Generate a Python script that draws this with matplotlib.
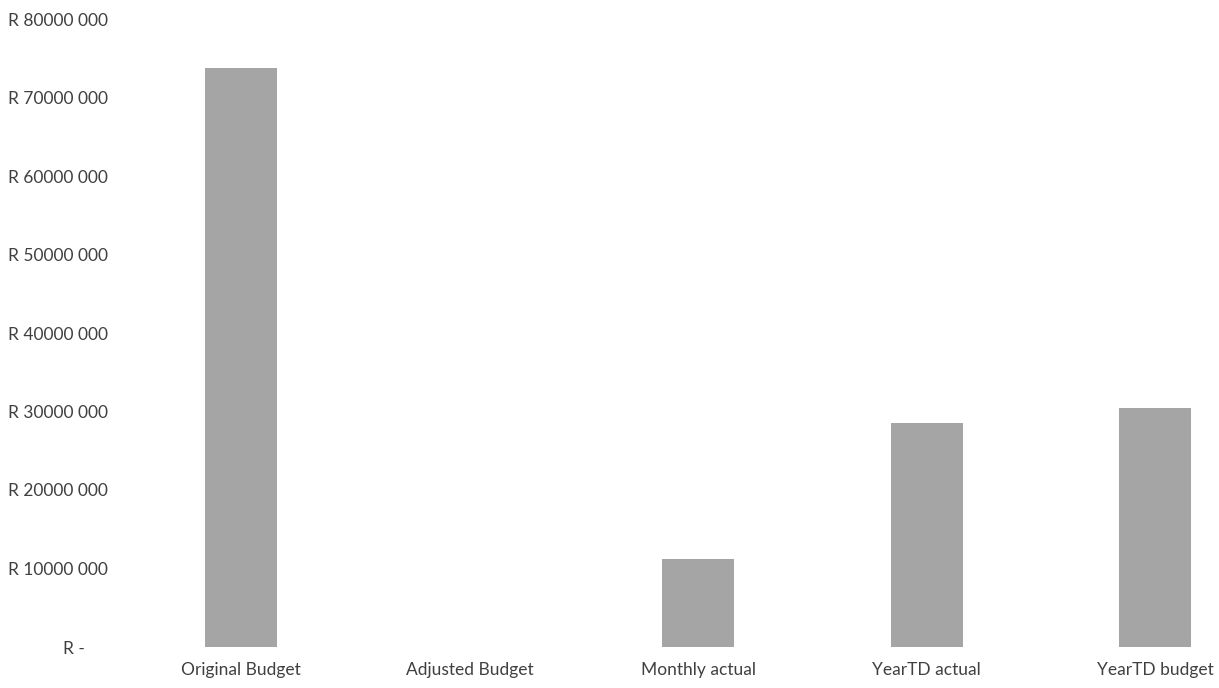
import matplotlib
matplotlib.use("Agg")
import matplotlib.pyplot as plt
from matplotlib.ticker import FuncFormatter

categories = ["Original Budget", "Adjusted Budget", "Monthly actual", "YearTD actual", "YearTD budget"]
values = [73800000, 0, 11200000, 28500000, 30400000]
yticks = [0, 10000000, 20000000, 30000000, 40000000, 50000000, 60000000, 70000000, 80000000]

plt.rcParams['font.family'] = ['Lato', 'DejaVu Sans']

fig = plt.figure(figsize=(12.19, 6.88), dpi=100)
ax = fig.add_axes([127/1219, (688-647)/688, 1 - 127/1219, (647-19)/688])

x = list(range(len(categories)))
ax.bar(x, values, width=0.315, color="#a5a5a5")

ax.set_xlim(-0.5, 4.28)
ax.set_ylim(0, 80000000)
ax.set_xticks(x)
ax.set_xticklabels(categories)
ax.set_yticks(yticks)

def fmt(v, pos):
    if v == 0:
        return "R -     "
    s = f"{int(v):,}".replace(",", " ")
    parts = s.split(" ")
    s = "".join(parts[:-1]) + " " + parts[-1]
    return "R " + s

ax.yaxis.set_major_formatter(FuncFormatter(fmt))
for sp in ax.spines.values():
    sp.set_visible(False)
ax.tick_params(axis="both", length=0, labelsize=12.5, labelcolor="#404040")
ax.tick_params(axis="x", pad=11)
ax.tick_params(axis="y", pad=14)

fig.savefig("out.png", dpi=100, facecolor="white")
